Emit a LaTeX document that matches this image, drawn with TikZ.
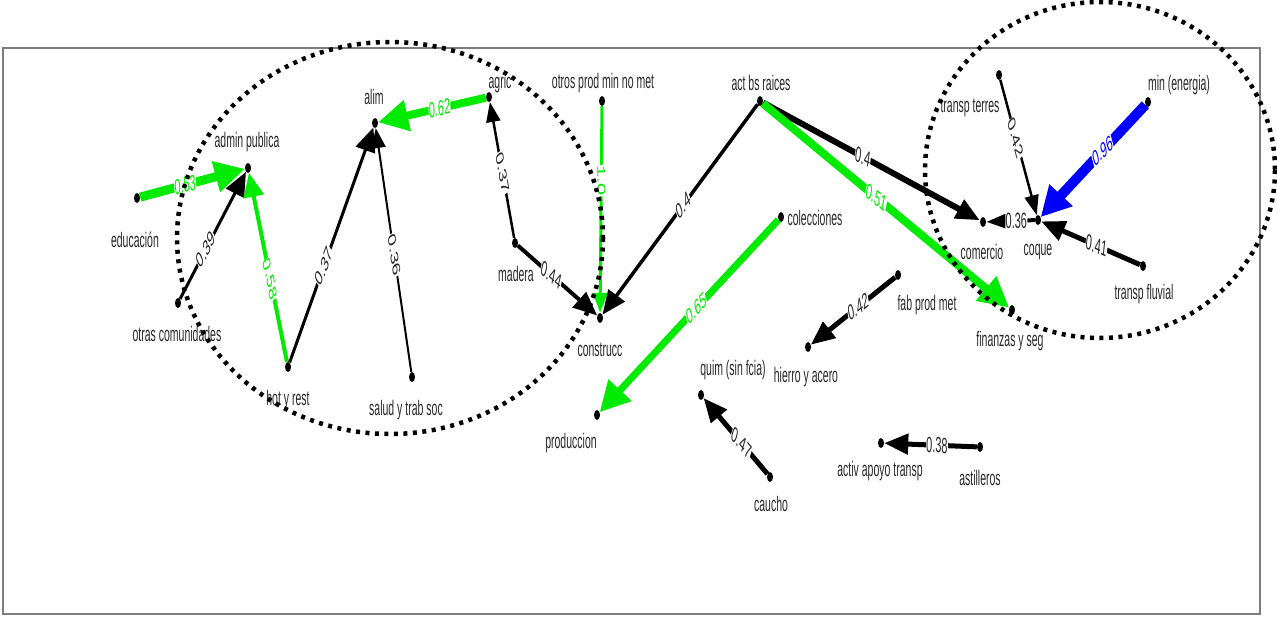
\documentclass[tikz,border=0pt]{standalone}
\usepackage{fontspec}
\newfontfamily\lab{Liberation Sans}
\usetikzlibrary{arrows.meta,shapes.geometric}
\definecolor{eg}{RGB}{0,235,0}
\definecolor{eb}{RGB}{0,0,255}
\definecolor{fr}{RGB}{125,125,125}
\definecolor{tx}{RGB}{40,40,40}
\begin{document}
\begin{tikzpicture}[xscale=0.5, x=2pt, y=-1pt,
  dot/.style={ellipse, fill=black, inner sep=0pt, minimum width=6pt, minimum height=10pt},
  txt/.style={font=\lab\fontsize{21}{23}\selectfont, text=tx, inner sep=0pt, transform shape},
  elbl/.style={font=\lab\fontsize{22}{24}\selectfont, fill=white, inner sep=0.5pt, transform shape, pos=0.44},
  eth/.style={-{Triangle[length=30pt,width=30pt]}},
  emid/.style={-{Triangle[length=24pt,width=20pt]}},
  esm/.style={-{Triangle[length=20pt,width=14pt]}},
  ring/.style={line width=4.5pt, dash pattern=on 4pt off 5.5pt},
]
\useasboundingbox (0,0) rectangle (1277,618);
\fill[white] (0,0) rectangle (1277,618);
\draw[fr, line width=2.5pt] (3,48) rectangle (1260,614);

% nodes (dots)
\node[dot] (edu) at (137,198) {};
\node[dot] (adm) at (248,168) {};
\node[dot] (otr) at (178,303) {};
\node[dot] (hot) at (288,367) {};
\node[dot] (ali) at (375,123) {};
\node[dot] (sal) at (412,377) {};
\node[dot] (agr) at (489,97) {};
\node[dot] (mad) at (515,243) {};
\node[dot] (con) at (600,318) {};
\node[dot] (opm) at (602,101) {};
\node[dot] (act) at (760,101) {};
\node[dot] (col) at (781,217) {};
\node[dot] (pro) at (597,415) {};
\node[dot] (qui) at (701,395) {};
\node[dot] (hie) at (808,347) {};
\node[dot] (fab) at (898,275) {};
\node[dot] (cau) at (770,477) {};
\node[dot] (aat) at (881,443) {};
\node[dot] (ast) at (980,447) {};
\node[dot] (fin) at (1012,310) {};
\node[dot] (com) at (983,222) {};
\node[dot] (coq) at (1038,220) {};
\node[dot] (tfl) at (1143,266) {};
\node[dot] (tte) at (999,75) {};
\node[dot] (min) at (1148,102) {};

% node labels
\node[txt] (edu-l) at (135,240) {educación};
\node[txt] (adm-l) at (247,142) {admin publica};
\node[txt] (otr-l) at (177,334) {otras comunidades};
\node[txt] (hot-l) at (288,400) {hot y rest};
\node[txt] (ali-l) at (374,97) {alim};
\node[txt] (sal-l) at (406,410) {salud y trab soc};
\node[txt] (agr-l) at (500,83) {agric};
\node[txt] (mad-l) at (516,274) {madera};
\node[txt] (con-l) at (600,350) {construcc};
\node[txt] (opm-l) at (603,83) {otros prod min no met};
\node[txt] (act-l) at (761,83) {act bs raices};
\node[txt] (col-l) at (815,218) {colecciones};
\node[txt] (pro-l) at (571,443) {produccion};
\node[txt] (qui-l) at (733,370) {quim (sin fcia)};
\node[txt] (hie-l) at (806,377) {hierro y acero};
\node[txt] (fab-l) at (927,305) {fab prod met};
\node[txt] (cau-l) at (771,504) {caucho};
\node[txt] (aat-l) at (880,471) {activ apoyo transp};
\node[txt] (ast-l) at (980,478) {astilleros};
\node[txt] (fin-l) at (1010,341) {finanzas y seg};
\node[txt] (com-l) at (982,252) {comercio};
\node[txt] (coq-l) at (1038,252) {coque};
\node[txt] (tfl-l) at (1144,294) {transp fluvial};
\node[txt] (tte-l) at (970,108) {transp terres};
\node[txt] (min-l) at (1179,85) {min (energia)};

% edges
\draw[eg, line width=9pt, eth] (edu) -- node[elbl, text=eg, pos=0.43, rotate=7.7] {0.53} (adm);
\draw[black, line width=3pt, emid] (otr) -- node[elbl, text=tx, pos=0.39, rotate=44] {0.39} (adm);
\draw[eg, line width=4pt, emid] (hot) -- node[elbl, text=eg, pos=0.44, rotate=-68.1] {0.58} (adm);
\draw[black, line width=3pt, emid] (hot) -- node[elbl, text=tx, pos=0.41, rotate=54.5] {0.37} (ali);
\draw[black, line width=2pt, esm] (sal) -- node[elbl, text=tx, pos=0.48, rotate=-73.8] {0.36} (ali);
\draw[eg, line width=8pt, eth] (agr) -- node[elbl, text=eg, pos=0.43, rotate=6.5] {0.62} (ali);
\draw[black, line width=2.5pt, esm] (mad) -- node[elbl, text=tx, pos=0.48, rotate=-70.4] {0.37} (agr);
\draw[black, line width=4pt, emid] (mad) -- node[elbl, text=tx, pos=0.42, rotate=-23.8] {0.44} (con);
\draw[eg, line width=3pt, esm] (opm) -- node[elbl, text=eg, pos=0.36, rotate=-89] {1.0} (con);
\draw[black, line width=3.5pt, emid] (act) -- node[elbl, text=tx, pos=0.48, rotate=34.1] {0.4} (con);
\draw[black, line width=6pt, emid] (act) -- node[elbl, text=tx, pos=0.46, rotate=-15.2] {0.4} (com);
\draw[eg, line width=8pt, eth] (act) -- node[elbl, text=eg, pos=0.46, rotate=-22.5] {0.51} (fin);
\draw[eg, line width=7pt, eth] (col) -- node[elbl, text=eg, pos=0.46, rotate=28.3] {0.65} (pro);
\draw[black, line width=5pt, emid] (fab) -- node[elbl, text=tx, pos=0.44, rotate=21.8] {0.42} (hie);
\draw[black, line width=5pt, emid] (cau) -- node[elbl, text=tx, pos=0.41, rotate=-30.7] {0.47} (qui);
\draw[black, line width=5pt, emid] (ast) -- node[elbl, text=tx, pos=0.43, rotate=-1.2] {0.38} (aat);
\draw[black, line width=4pt, esm] (coq) -- node[elbl, text=tx, pos=0.38, rotate=1] {0.36} (com);
\draw[black, line width=2.5pt, esm] (tte) -- node[elbl, text=tx, pos=0.43, rotate=-61.7] {0.42} (coq);
\draw[eb, line width=10pt, eth] (min) -- node[elbl, text=eb, pos=0.41, rotate=28.2] {0.96} (coq);
\draw[black, line width=5pt, emid] (tfl) -- node[elbl, text=tx, pos=0.44, rotate=-12.4] {0.41} (coq);

% dotted group ellipses
\draw[ring] (390,238) ellipse [x radius=213, y radius=196];
\draw[ring] (1100,170) ellipse [x radius=175, y radius=168];
\end{tikzpicture}
\end{document}
